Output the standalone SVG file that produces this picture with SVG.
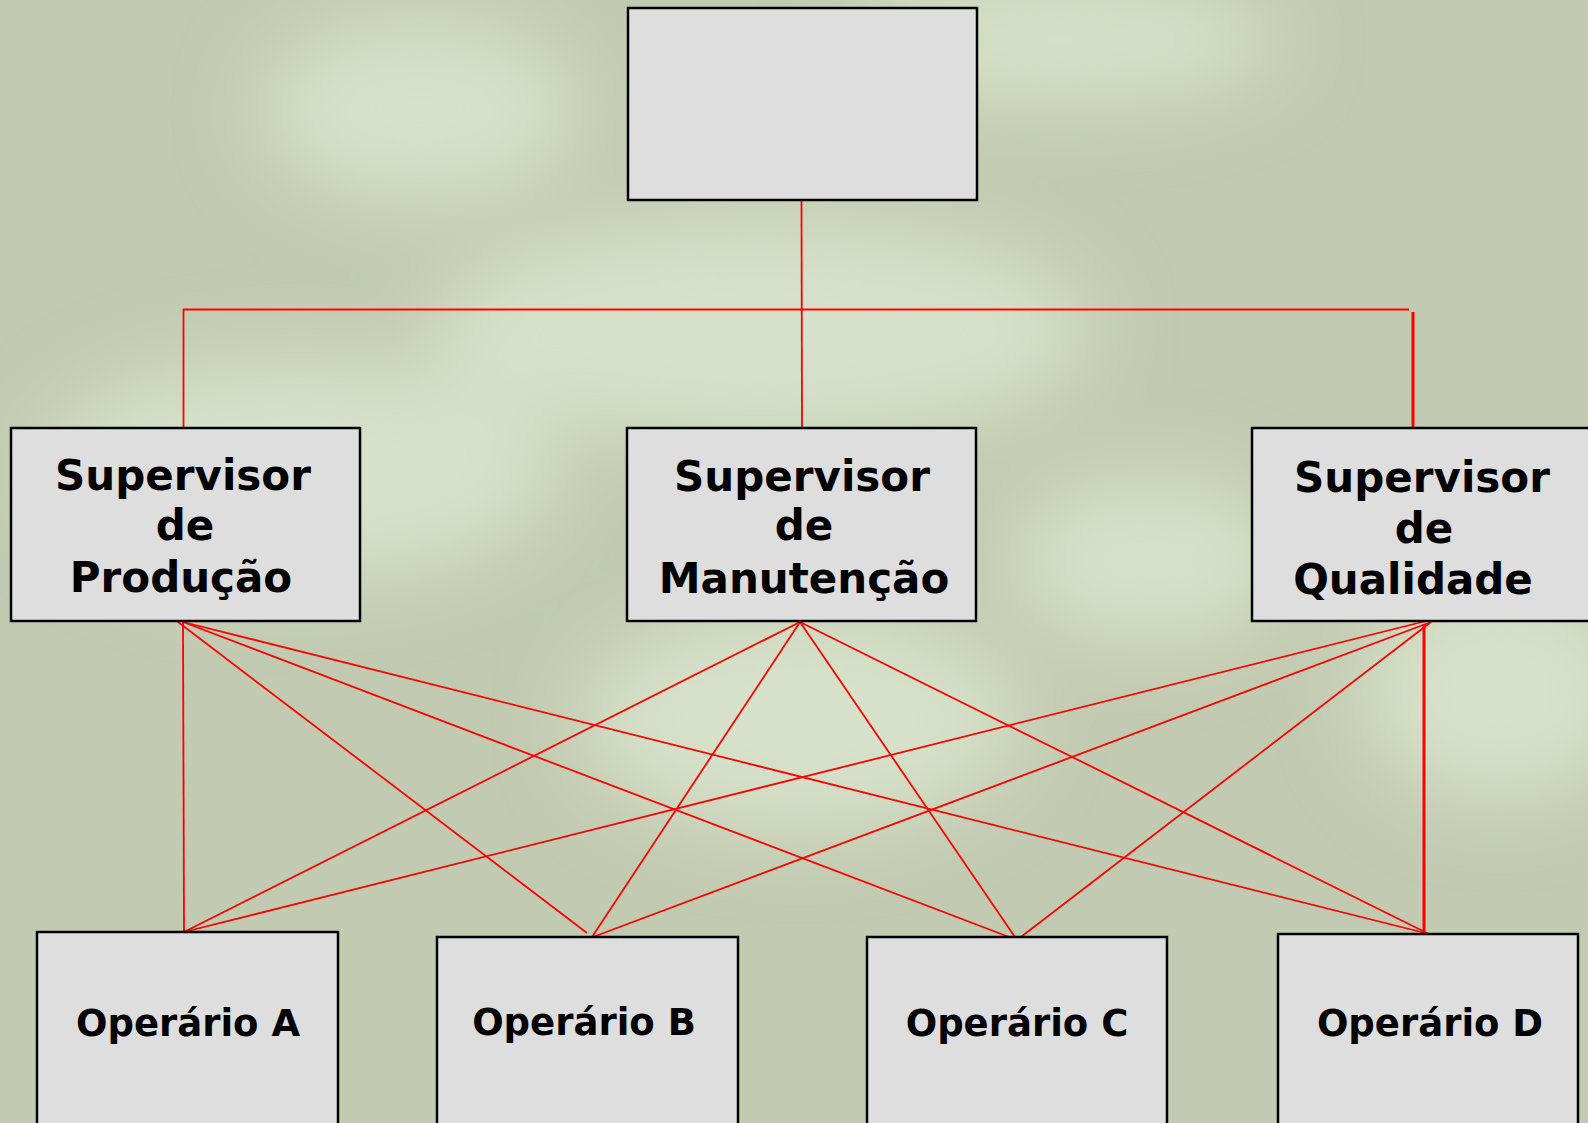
<svg xmlns="http://www.w3.org/2000/svg" width="1588" height="1123" viewBox="0 0 1588 1123">
<style>
.box{fill:#dedede;stroke:#000;stroke-width:2.5}
.lbl{font-family:"DejaVu Sans",Verdana,sans-serif;font-weight:bold;fill:#000;text-anchor:middle}
.sup{font-size:42px}
.op{font-size:37px}
.ln{stroke:#ff0000;stroke-width:1.8;fill:none}
.thick{stroke-width:3}
</style>
<defs>
<filter id="blur" x="-50%" y="-50%" width="200%" height="200%"><feGaussianBlur stdDeviation="40"/></filter>
</defs>
<rect width="1588" height="1123" fill="#c2cbb1"/>
<g filter="url(#blur)" fill="#d7e1c9">
<ellipse cx="420" cy="110" rx="160" ry="90"/>
<ellipse cx="760" cy="330" rx="330" ry="110"/>
<ellipse cx="1060" cy="40" rx="220" ry="60"/>
<ellipse cx="300" cy="470" rx="260" ry="110"/>
<ellipse cx="1500" cy="690" rx="140" ry="110"/>
<ellipse cx="800" cy="720" rx="220" ry="110"/>
<ellipse cx="1150" cy="560" rx="140" ry="80"/>
</g>
<g id="connectors">
<line class="ln" x1="801.5" y1="200" x2="802" y2="428"/>
<line class="ln" x1="183" y1="309.5" x2="1409" y2="309.5"/>
<line class="ln" x1="183.5" y1="309" x2="183.5" y2="428"/>
<line class="ln thick" x1="1413" y1="312" x2="1413" y2="428"/>
<line class="ln" x1="183" y1="622" x2="184" y2="932"/>
<line class="ln" x1="178" y1="622" x2="587" y2="933"/>
<line class="ln" x1="183" y1="622" x2="1017" y2="940"/>
<line class="ln" x1="183" y1="622" x2="1429" y2="934"/>
<line class="ln" x1="800" y1="622" x2="184" y2="932"/>
<line class="ln" x1="800" y1="622" x2="592" y2="937"/>
<line class="ln" x1="800" y1="622" x2="1017" y2="940"/>
<line class="ln" x1="800" y1="622" x2="1429" y2="934"/>
<line class="ln" x1="1430" y1="620" x2="184" y2="932"/>
<line class="ln" x1="1431" y1="622" x2="593" y2="937"/>
<line class="ln" x1="1431" y1="622" x2="1017" y2="940"/>
<line class="ln thick" x1="1424" y1="624" x2="1424" y2="934"/>
</g>
<g id="top"><rect class="box" x="628" y="8" width="349" height="192"/></g>
<g id="sup-producao">
<rect class="box" x="11" y="428" width="349" height="193"/>
<text class="lbl sup" x="183" y="490">Supervisor</text>
<text class="lbl sup" x="185" y="540">de</text>
<text class="lbl sup" x="181" y="592">Produção</text>
</g>
<g id="sup-manutencao">
<rect class="box" x="627" y="428" width="349" height="193"/>
<text class="lbl sup" x="802" y="491">Supervisor</text>
<text class="lbl sup" x="804" y="540">de</text>
<text class="lbl sup" x="804" y="593">Manutenção</text>
</g>
<g id="sup-qualidade">
<rect class="box" x="1252" y="428" width="349" height="193"/>
<text class="lbl sup" x="1422" y="492">Supervisor</text>
<text class="lbl sup" x="1424" y="543">de</text>
<text class="lbl sup" x="1413" y="594">Qualidade</text>
</g>
<g id="op-a">
<rect class="box" x="37" y="932" width="301" height="250"/>
<text class="lbl op" x="188" y="1036">Operário A</text>
</g>
<g id="op-b">
<rect class="box" x="437" y="937" width="301" height="250"/>
<text class="lbl op" x="584" y="1035">Operário B</text>
</g>
<g id="op-c">
<rect class="box" x="867" y="937" width="300" height="250"/>
<text class="lbl op" x="1017" y="1036">Operário C</text>
</g>
<g id="op-d">
<rect class="box" x="1278" y="934" width="300" height="250"/>
<text class="lbl op" x="1430" y="1036">Operário D</text>
</g>
</svg>
